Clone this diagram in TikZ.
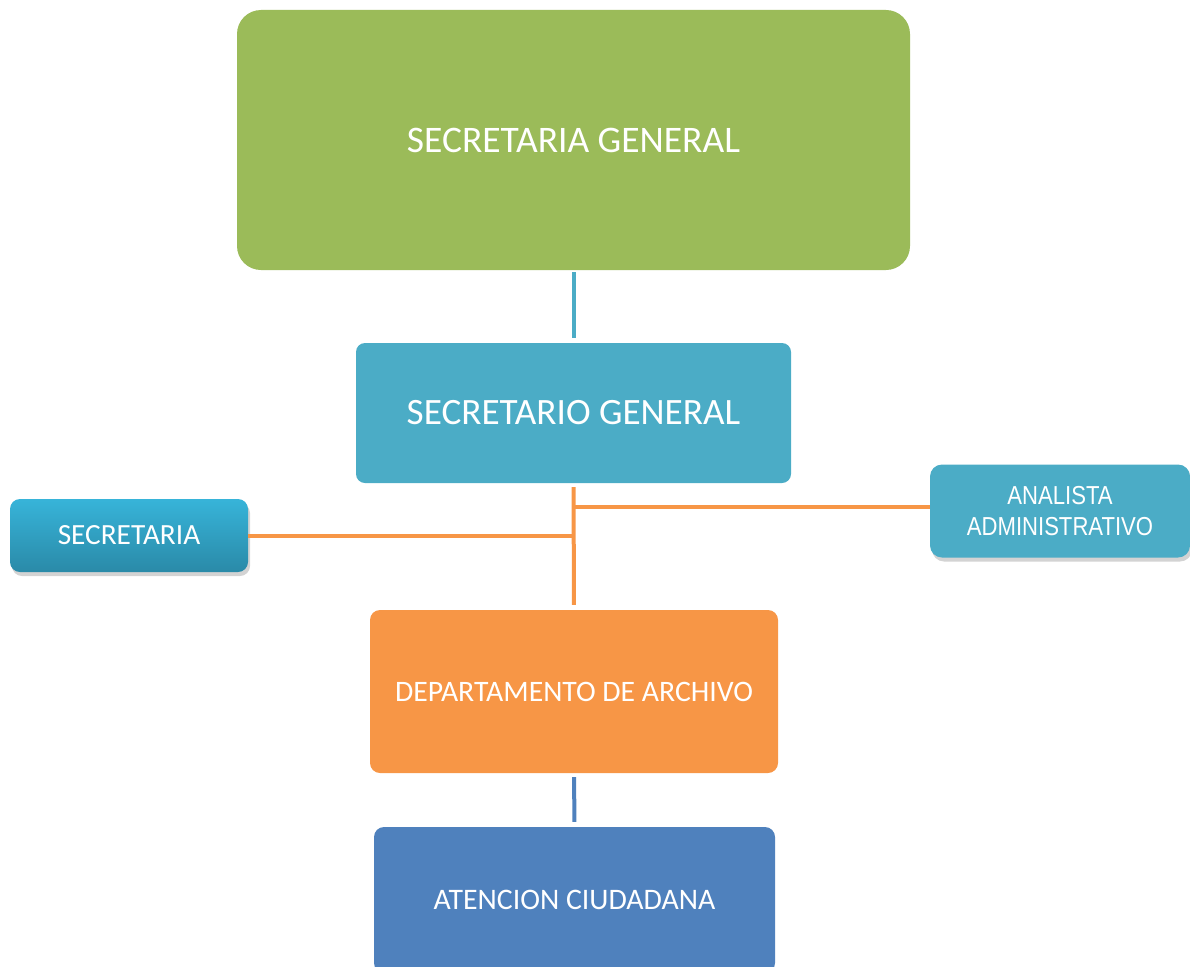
\documentclass[tikz,border=0pt]{standalone}
\usepackage{fontspec}
\setmainfont{Carlito}
\newfontfamily\arialf[FakeStretch=0.85]{Liberation Sans}
\usetikzlibrary{shadows}
\definecolor{sgGreen}{HTML}{9BBB59}
\definecolor{aqua}{HTML}{4BACC6}
\definecolor{aquaTop}{HTML}{37B4D9}
\definecolor{aquaBot}{HTML}{2A8AA8}
\definecolor{orangeA}{HTML}{F79646}
\definecolor{blueA}{HTML}{4F81BD}
\tikzset{
  box/.style={rectangle, draw=none, text=white, align=center, inner sep=0pt},
  shade box/.style={drop shadow={opacity=0.35, shadow xshift=2pt, shadow yshift=-4pt}},
  link/.style={line width=4pt},
}
\begin{document}
\begin{tikzpicture}[x=1pt, y=-1pt]
\useasboundingbox (0,0) rectangle (1190,966);
% main boxes
\node[box, fill=sgGreen, rounded corners=24pt, minimum width=673pt, minimum height=260pt,
      font=\fontsize{37.5}{44}\selectfont] (sg) at (573.5,140) {SECRETARIA GENERAL};
\node[box, fill=aqua, rounded corners=9pt, minimum width=435pt, minimum height=140pt,
      font=\fontsize{37.2}{44}\selectfont] (sgo) at (573.5,413) {SECRETARIO GENERAL};
\node[box, shade box, top color=aquaTop, bottom color=aquaBot, rounded corners=10pt,
      minimum width=238pt, minimum height=73pt,
      font=\fontsize{29.3}{34}\selectfont] (sec) at (129,535.5) {SECRETARIA};
\node[box, shade box, fill=aqua, rounded corners=12pt, minimum width=260pt, minimum height=93pt,
      font=\arialf\fontsize{26}{31}\selectfont] (ana) at (1060,511) {ANALISTA\\ADMINISTRATIVO};
\node[box, fill=orangeA, rounded corners=10pt, minimum width=408pt, minimum height=163pt,
      font=\fontsize{29.7}{35}\selectfont] (dep) at (574,691.5) {DEPARTAMENTO DE ARCHIVO};
\node[box, fill=blueA, rounded corners=10pt, minimum width=401pt, minimum height=146pt,
      font=\fontsize{29.8}{35}\selectfont] (ate) at (574.5,900) {ATENCION CIUDADANA};
% connectors
\draw[link, draw=aqua, shorten <=2pt, shorten >=5pt] (sg.south) -- (sgo.north);
\draw[link, draw=orangeA, shorten <=4pt, shorten >=5pt] (sgo.south) -- (dep.north);
\coordinate (ja) at (sgo.south |- 0,507);
\coordinate (js) at (sgo.south |- sec.east);
\draw[link, draw=orangeA] (ja) -- (ja -| ana.west);
\draw[link, draw=orangeA] (sec.east) -- (js);
\draw[link, draw=blueA, shorten <=4pt, shorten >=5pt] (dep.south) -- (ate.north);
\end{tikzpicture}
\end{document}
